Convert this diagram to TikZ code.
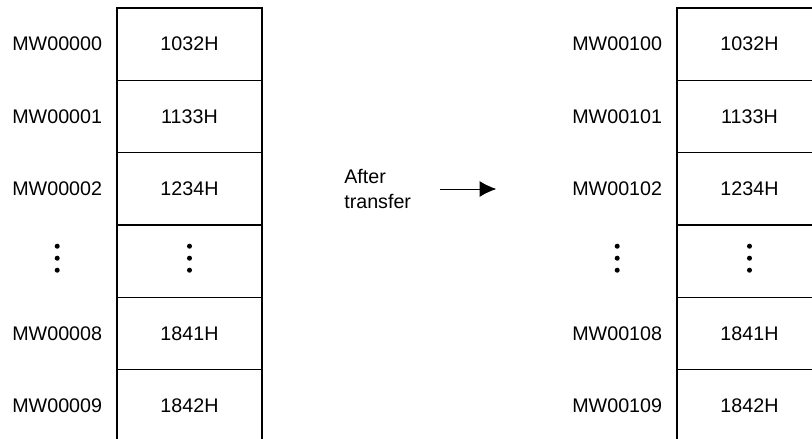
\documentclass[tikz,border=0pt]{standalone}
\usepackage{fontspec}
\setmainfont{Liberation Sans}
\usetikzlibrary{arrows.meta,positioning}

\begin{document}
\begin{tikzpicture}[
  x=0.025cm, y=-0.025cm,
  font=\fontsize{14}{18.4}\selectfont,
  >=Latex,
  cell/.style={draw, minimum width=3.625cm, minimum height=1.808cm, inner sep=0pt, line width=0.9pt},
  addr/.style={inner sep=0pt},
  note/.style={inner sep=0pt, align=left},
  vdot/.style={fill=black}
]
\clip (0,0) rectangle (812,439);

% Left block: source words
\node[cell] (l1) at (189.5,44.2)  {1032H};
\node[cell] (l2) at (189.5,116.5) {1133H};
\node[cell] (l3) at (189.5,188.8) {1234H};
\node[cell] (l4) at (189.5,261.2) {};
\node[cell] (l5) at (189.5,333.5) {1841H};
\node[cell] (l6) at (189.5,405.8) {1842H};
\node[addr, left=0.35cm of l1] (la1) {MW00000};
\node[addr, left=0.35cm of l2] (la2) {MW00001};
\node[addr, left=0.35cm of l3] (la3) {MW00002};
\node[addr, left=0.35cm of l4] (la4) {\phantom{MW00000}};
\node[addr, left=0.35cm of l5] (la5) {MW00008};
\node[addr, left=0.35cm of l6] (la6) {MW00009};

% Right block: destination words
\node[cell] (r1) at (749.5,44.2)  {1032H};
\node[cell] (r2) at (749.5,116.5) {1133H};
\node[cell] (r3) at (749.5,188.8) {1234H};
\node[cell] (r4) at (749.5,261.2) {};
\node[cell] (r5) at (749.5,333.5) {1841H};
\node[cell] (r6) at (749.5,405.8) {1842H};
\node[addr, left=0.35cm of r1] (ra1) {MW00100};
\node[addr, left=0.35cm of r2] (ra2) {MW00101};
\node[addr, left=0.35cm of r3] (ra3) {MW00102};
\node[addr, left=0.35cm of r4] (ra4) {\phantom{MW00100}};
\node[addr, left=0.35cm of r5] (ra5) {MW00108};
\node[addr, left=0.35cm of r6] (ra6) {MW00109};

% Vertical ellipses
\fill[vdot] (la4.center) +(0,-15) circle[radius=1.8pt] +(0,-3) circle[radius=1.8pt] +(0,9) circle[radius=1.8pt];
\fill[vdot] (l4.center)  +(0,-15) circle[radius=1.8pt] +(0,-3) circle[radius=1.8pt] +(0,9) circle[radius=1.8pt];
\fill[vdot] (ra4.center) +(0,-15) circle[radius=1.8pt] +(0,-3) circle[radius=1.8pt] +(0,9) circle[radius=1.8pt];
\fill[vdot] (r4.center)  +(0,-15) circle[radius=1.8pt] +(0,-3) circle[radius=1.8pt] +(0,9) circle[radius=1.8pt];

% Transfer arrow
\node[note, anchor=west] (note) at (344,189) {After\\transfer};
\coordinate[right=0.725cm of note] (arrS);
\coordinate[right=1.4cm of arrS] (arrE);
\draw[-{Latex[length=0.42cm, width=0.4cm]}, line width=0.7pt] (arrS) -- (arrE);

\end{tikzpicture}
\end{document}
